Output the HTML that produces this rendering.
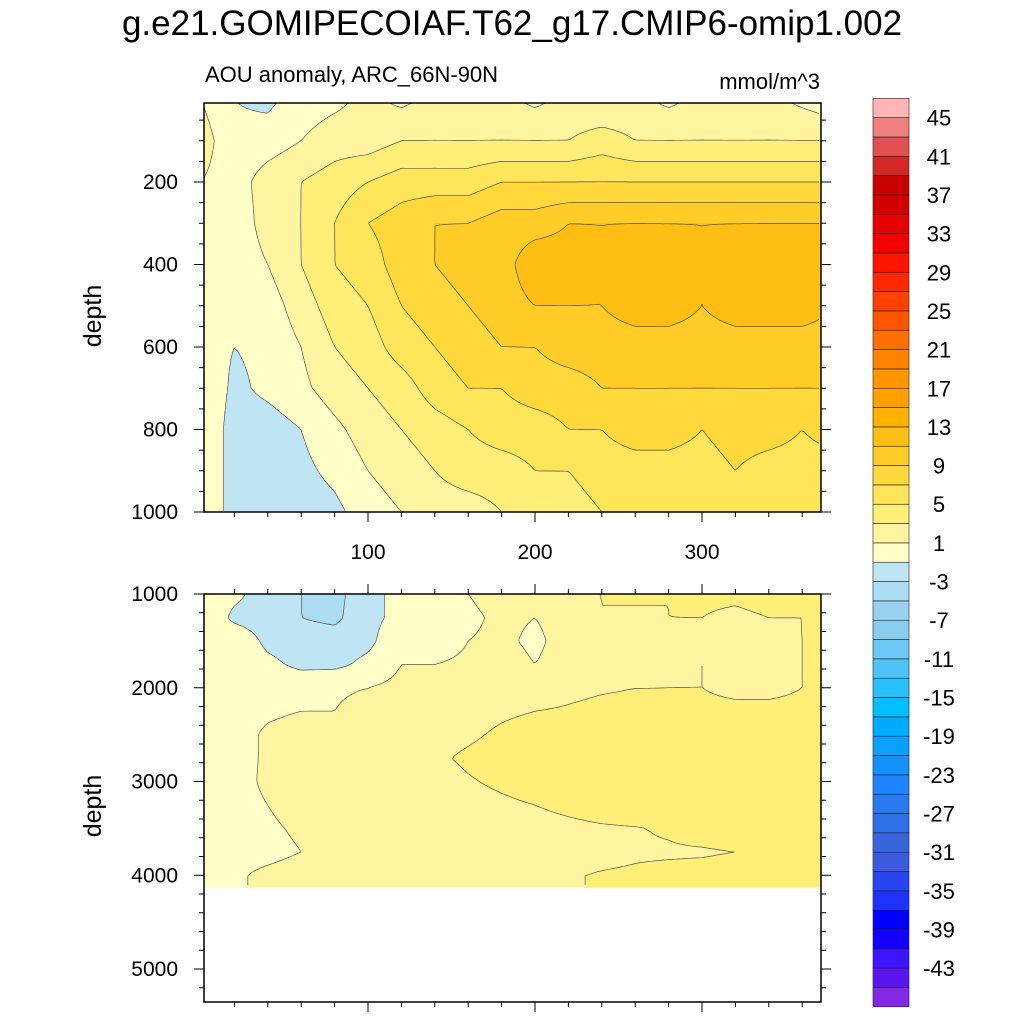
<!DOCTYPE html>
<html><head><meta charset="utf-8">
<style>
body{margin:0;background:#fff;}
svg{display:block;font-family:"Liberation Sans",Arial,sans-serif;}
</style></head>
<body>
<svg id="chart" width="1024" height="1024" viewBox="0 0 1024 1024" xmlns="http://www.w3.org/2000/svg">
<rect width="1024" height="1024" fill="#fff"/>
<text x="512" y="35" text-anchor="middle" font-size="35">g.e21.GOMIPECOIAF.T62_g17.CMIP6-omip1.002</text>
<text x="205" y="82" font-size="22">AOU anomaly, ARC_66N-90N</text>
<text x="820" y="89" text-anchor="end" font-size="22">mmol/m^3</text>
<text transform="translate(101,316) rotate(-90)" text-anchor="middle" font-size="25">depth</text>
<text transform="translate(101,806) rotate(-90)" text-anchor="middle" font-size="25">depth</text>
<g id="topPanel"></g>
<g id="botPanel"></g>
<g id="cbar"></g>
</svg>
<script>
const NS="http://www.w3.org/2000/svg";
// ---- data ----
const times=[0,20,40,60,80,100,120,140,160,180,200,220,240,260,280,300,320,340,360,380];
const topDepths=[0,100,200,300,400,500,600,700,800,900,1000];
const topValues=[
[1,-1,-1.5,0,0.5,1.5,0.5,1.5,1,1.5,0.5,1.5,1,1.5,0.5,1.5,1,1.5,0.5,-0.5],
[2,-0.5,0,1,2,2,3,3,3,3,3,3,4,3,3,3,3,3,3,3],
[1,0,2,3,4,5,6,6,6,7,7,7,7,7,7,7,7,7,7,7],
[0,-0.5,2,3,5,7,8,9,9,10,10,11,11,11,11,11,11,11,11,11],
[0,-0.5,1,3,5,6,8,9,10,10,12.5,12,11,12.5,12,11,12,12.5,13,12],
[0,-0.5,0,2,4,5,7,8,9,10,11,11,11,12,12,11,12,12,12,11],
[0,-1,-0.5,1,3,4,6,7,8,9,9,10,10,10,10,10,10,10,10,10],
[1,-1.5,-0.5,0.5,2,3,4,6,7,7,8,8,9,9,9,9,9,9,9,9],
[1,-2,-2,-1,0.5,2,3,4,5,6,6,7,7,8,8,7,8,8,7,8],
[1,-2,-2,-1.5,-0.5,1,2,3,4,4,5,5,6,6,6,6,7,6,6,6],
[1,-2,-2,-2,-1.5,0,1,2,2,3,4,4,5,5,5,5,6,5,5,6]
];
const botDepths=[1000,1250,1500,1750,2000,2250,2500,2750,3000,3250,3500,3750,4000,4130];
const botValues=[
[1,-0.5,-2,-3,-3.5,-2,0,-1,1,2,2,3,3,4,3,4,4,5,4,5],
[1,-1.5,-2,-3,-3.5,-1.5,-0.5,-1,0.5,1.5,1,2,3,2,3,3,2,3,3,4],
[0.5,0.5,-1.5,-2,-2,-1.5,0.5,-0.5,1,1.5,0.5,2,2.5,1.5,2.5,2.5,1.5,2.5,3,3.5],
[0.5,0.5,-0.5,-1.5,-1.5,-0.5,1,1,1.5,2,1,2,2.5,1.5,2.5,3,2,2.5,3,3.5],
[0.5,0.5,0.5,0.5,0.8,1,1.5,2,2,2.5,2,2.5,2.8,3,3,3,2.5,2.5,3,3.5],
[0.5,0.5,0.8,1,1,1.5,2,2.5,2.5,2.8,3,3.2,3.5,3.5,3.5,3.5,3.5,3.5,3.5,3.8],
[0.5,0.5,1.2,1.5,1.8,2,2.2,2.5,2.8,3.2,3.5,3.6,3.8,3.8,3.8,3.8,3.8,3.8,4,4],
[0.5,0.5,1.2,1.6,1.8,2,2.4,2.8,3.2,3.5,3.7,3.8,4,4,4,4,4,4,4,4],
[0.5,0.6,1.2,1.6,1.8,2,2.2,2.5,2.9,3.2,3.5,3.6,3.8,4,4,4,4,4,4,4],
[0.5,0.6,1,1.5,1.8,2,2.2,2.4,2.6,2.8,3,3.2,3.4,3.6,3.8,4,4,4,4,4],
[0.5,0.5,0.8,1.2,1.6,1.9,2.1,2.3,2.5,2.6,2.7,2.8,2.9,2.95,3.1,3.4,3.6,3.8,4,4],
[0.5,0.5,0.6,1,1.3,1.6,1.9,2.1,2.3,2.5,2.6,2.7,2.8,2.9,2.9,2.9,3,3.2,3.4,3.6],
[-0.5,0.8,1.3,1.6,1.8,2,2.2,2.4,2.6,2.8,2.9,2.95,3.05,3.1,3.2,3.3,3.4,3.5,3.7,3.9],
[-0.5,0.8,1.3,1.6,1.8,2,2.2,2.4,2.6,2.8,2.9,2.95,3.05,3.1,3.2,3.3,3.4,3.5,3.7,3.9]
];
const levelLabels=[45,41,37,33,29,25,21,17,13,9,5,1,-3,-7,-11,-15,-19,-23,-27,-31,-35,-39,-43];
const xTickLabels=[100,200,300];
const topYTicks=[200,400,600,800,1000];
const botYTicks=[1000,2000,3000,4000,5000];
const colors=["#8228e6","#5a14f0","#3c14ff","#1400ff","#0000ff","#1e32ff","#2846f0","#3c5ae0","#3864dc","#3070e6","#2878f0","#1e84ff","#1490ff","#0aa0ff","#00acff","#00beff","#28c0ff","#50c4f8","#6ec8f5","#88ccee","#98d2f0","#acdcf2","#bfe4f4","#ffffc8","#fff5a0","#ffee78","#ffe55a","#ffd93c","#ffcc28","#ffbe14","#ffb000","#ffa000","#ff9600","#ff8200","#ff6e00","#ff5500","#ff4000","#ff2800","#ff1400","#f50000","#e60000","#d20000","#c80000","#d42828","#e05050","#f08080","#ffb5b5"];

const X0=204,X1=821;
const xs=t=>201+1.67*t;
const xinv=px=>(px-201)/1.67;
const topP={y0:103,y1:512,ys:d=>99.5+d*0.4125,yinv:p=>(p-99.5)/0.4125,depths:topDepths,vals:topValues,dmax:1000};
const botP={y0:594,y1:1002,ys:d=>594+(d-1000)*0.09375,yinv:p=>(p-594)/0.09375+1000,depths:botDepths,vals:botValues,dmax:4130};

function val(P,t,d){
  const D=P.depths;let i=0;
  while(i<D.length-2&&d>D[i+1])i++;
  let fy=(d-D[i])/(D[i+1]-D[i]);fy=Math.max(0,Math.min(1,fy));
  let j=Math.floor(t/20);j=Math.max(0,Math.min(times.length-2,j));
  let fx=(t-times[j])/20;fx=Math.max(0,Math.min(1,fx));
  const V=P.vals;
  const a=V[i][j]*(1-fx)+V[i][j+1]*fx, b=V[i+1][j]*(1-fx)+V[i+1][j+1]*fx;
  return a*(1-fy)+b*fy;
}
function cidx(v){let k=Math.floor((v+45)/2)+1;return Math.max(0,Math.min(46,k));}

function addCell(g,x,y,w,h,c){
  const r=document.createElementNS(NS,"rect");
  
  
  r.setAttribute("x",x);r.setAttribute("y",y);
  r.setAttribute("width",w);r.setAttribute("height",h);
  r.setAttribute("fill",colors[c]);g.appendChild(r);
}
function drawPanel(P,g){
  const yEnd=Math.min(P.y1,P.ys(P.dmax));
  const step=2;
  for(let y=P.y0;y<yEnd;y+=step){
    const d=P.yinv(y+step/2);
    const h=Math.min(step,yEnd-y)+0.3;
    let runStart=X0,runC=null;
    for(let x=X0;x<X1;x+=step){
      const c=cidx(val(P,xinv(x+step/2),d));
      if(c!==runC){
        if(runC!==null)addCell(g,runStart,y,x-runStart+0.3,h,runC);
        runStart=x;runC=c;
      }
    }
    if(runC!==null)addCell(g,runStart,y,X1-runStart,h,runC);
  }
  const cs=3;const nx=Math.floor((X1-X0)/cs),ny=Math.floor((yEnd-P.y0)/cs);
  const grid=[];
  for(let r=0;r<=ny;r++){const row=[];const d=P.yinv(P.y0+r*cs);for(let c=0;c<=nx;c++)row.push(val(P,xinv(X0+c*cs),d));grid.push(row);}
  let path="";
  for(let L=-45;L<=45;L+=2){
    for(let r=0;r<ny;r++)for(let c=0;c<nx;c++){
      const v=[grid[r][c],grid[r][c+1],grid[r+1][c+1],grid[r+1][c]];
      const px=[X0+c*cs,X0+(c+1)*cs,X0+(c+1)*cs,X0+c*cs],py=[P.y0+r*cs,P.y0+r*cs,P.y0+(r+1)*cs,P.y0+(r+1)*cs];
      const pts=[];
      for(let e=0;e<4;e++){const a=v[e],b=v[(e+1)%4];
        if((a<L)!==(b<L)){const f=(L-a)/(b-a);pts.push([px[e]+(px[(e+1)%4]-px[e])*f,py[e]+(py[(e+1)%4]-py[e])*f]);}}
      if(pts.length>=2)path+="M"+pts[0][0].toFixed(1)+" "+pts[0][1].toFixed(1)+"L"+pts[1][0].toFixed(1)+" "+pts[1][1].toFixed(1);
      if(pts.length===4)path+="M"+pts[2][0].toFixed(1)+" "+pts[2][1].toFixed(1)+"L"+pts[3][0].toFixed(1)+" "+pts[3][1].toFixed(1);
    }
  }
  const pe=document.createElementNS(NS,"path");
  
  
  pe.setAttribute("d",path);pe.setAttribute("stroke","#555");pe.setAttribute("stroke-width","0.7");pe.setAttribute("fill","none");
  g.appendChild(pe);
  const fr=document.createElementNS(NS,"rect");
  
  
  fr.setAttribute("x",X0);fr.setAttribute("y",P.y0);fr.setAttribute("width",X1-X0);fr.setAttribute("height",P.y1-P.y0);
  fr.setAttribute("fill","none");fr.setAttribute("stroke","#000");fr.setAttribute("stroke-width","1.5");
  g.appendChild(fr);
}
function line(g,x1,y1,x2,y2,name){
  const l=document.createElementNS(NS,"line");
  
  
  l.setAttribute("x1",x1);l.setAttribute("y1",y1);l.setAttribute("x2",x2);l.setAttribute("y2",y2);
  l.setAttribute("stroke","#000");l.setAttribute("stroke-width","1");g.appendChild(l);
}
function text(g,x,y,s,anchor,size,name){
  const t=document.createElementNS(NS,"text");
  
  
  t.setAttribute("x",x);t.setAttribute("y",y);t.setAttribute("text-anchor",anchor);t.setAttribute("font-size",size);
  t.textContent=s;g.appendChild(t);
}
function ticks(P,g,yticks,minorStep,showX,xSide){
  for(let t=20;t<=370;t+=20){
    const x=xs(t);const major=t%100===0;const len=major?10:5;
    if(xSide!=="top"){line(g,x,P.y1,x,P.y1+len,'x-tick');}
    if(xSide!=="bottom"){line(g,x,P.y0,x,P.y0-len,'x-tick');}
  }
  const dStart=P===topP?50:1000;
  for(let d=dStart;d<=(P===topP?1000:5352);d+=minorStep){
    const y=P.ys(d);if(y<P.y0-0.5||y>P.y1+0.5)continue;
    const major=yticks.indexOf(d)>=0;const len=major?10:5;
    line(g,X0,y,X0-len,y,'y-tick');line(g,X1,y,X1+len,y,'y-tick');
  }
  yticks.forEach(d=>text(g,178,P.ys(d)+7,String(d),"end",21,'y-tick-label'));
  if(showX)xTickLabels.forEach(t=>text(g,xs(t),559,String(t),"middle",21,'x-tick-label'));
}
const gt=document.getElementById("topPanel"),gb=document.getElementById("botPanel");
drawPanel(topP,gt);drawPanel(botP,gb);
ticks(topP,gt,topYTicks,50,true,"bottom");
ticks(botP,gb,botYTicks,200,false,"both");
const cb=document.getElementById("cbar");
const CB0=98.3,BH=19.33;
for(let k=0;k<colors.length;k++){
  const r=document.createElementNS(NS,"rect");
  
  
  r.setAttribute("x",873);r.setAttribute("y",CB0+(46-k)*BH);r.setAttribute("width",36);r.setAttribute("height",BH);
  r.setAttribute("fill",colors[k]);r.setAttribute("stroke","#222");r.setAttribute("stroke-width","0.6");cb.appendChild(r);
}
levelLabels.forEach(b=>text(cb,939,CB0+((45-b)/2+1)*BH+8,String(b),"middle",22,'colorbar-label'));
</script>
</body></html>
